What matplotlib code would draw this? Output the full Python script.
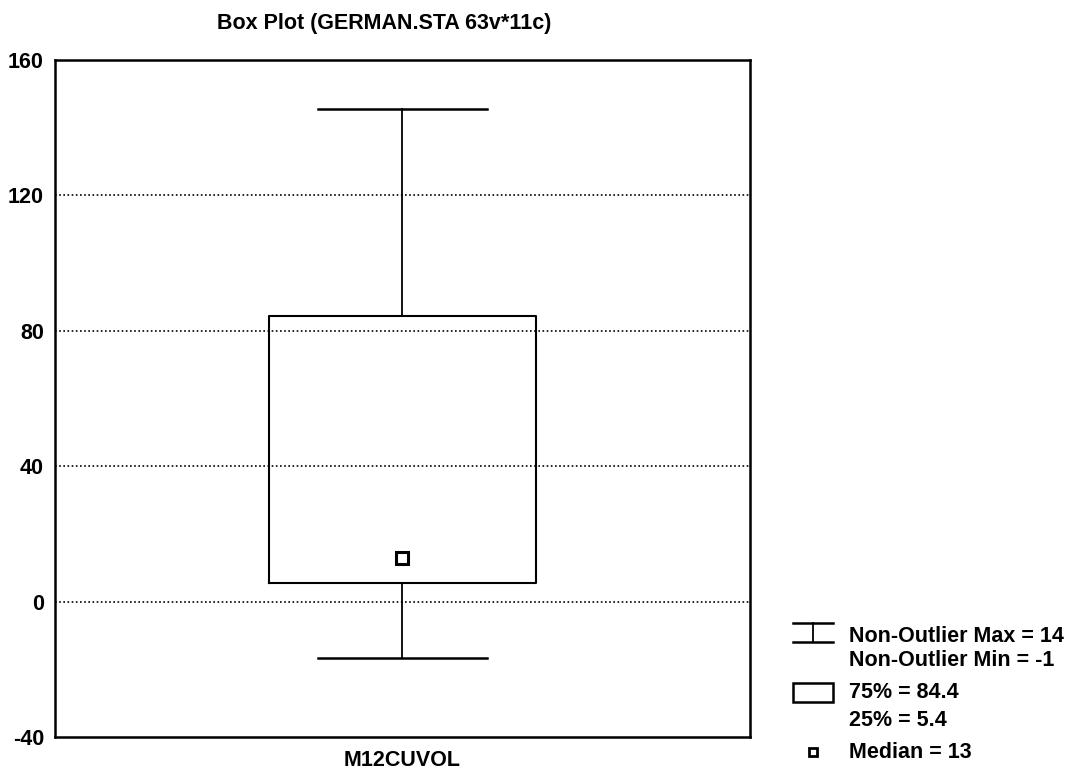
import matplotlib.pyplot as plt
from matplotlib.lines import Line2D
from matplotlib.patches import Rectangle

plt.rcParams['font.family'] = ['Liberation Sans', 'DejaVu Sans']
plt.rcParams['font.weight'] = 'bold'

# summary values
variable = "M12CUVOL"
whisker_low = -16.8
q1 = 5.4
median = 13
q3 = 84.4
whisker_high = 145.5
yticks = [-40, 0, 40, 80, 120, 160]
legend_lines = ["Non-Outlier Max = 14", "Non-Outlier Min = -1",
                "75% = 84.4", "25% = 5.4", "Median = 13"]

fig = plt.figure(figsize=(10.68, 7.72), dpi=100)
ax = fig.add_axes([55/1068, 1 - 737/772, 695/1068, 677/772])

stats = [dict(label=variable, whislo=whisker_low, q1=q1, med=median,
              q3=q3, whishi=whisker_high, fliers=[])]
ax.bxp(stats, positions=[1], widths=0.384, capwidths=0.244, showfliers=False,
       boxprops=dict(color='black', linewidth=1.5),
       whiskerprops=dict(color='black', linewidth=1.3),
       capprops=dict(color='black', linewidth=1.8),
       medianprops=dict(linewidth=0))
ax.plot([1], [median], marker='s', markersize=8.5, markerfacecolor='white',
        markeredgecolor='black', markeredgewidth=2.2, linestyle='none')

ax.set_xlim(0.5, 1.5)
ax.set_ylim(-40, 160)
ax.set_yticks(yticks)
ax.set_yticklabels([str(t) for t in yticks])
ax.tick_params(axis='y', length=0, labelsize=15.5, pad=8)
ax.tick_params(axis='x', length=0, labelsize=15.5, pad=9)
ax.set_xticks([1])
ax.set_xticklabels([variable])
for t in [0, 40, 80, 120]:
    ax.axhline(t, color='black', linestyle=(0, (1, 1.5)), linewidth=1.2, zorder=0)
for s in ax.spines.values():
    s.set_linewidth(1.8)

fig.text(384/1068, 1 - 23/772, "Box Plot (GERMAN.STA 63v*11c)",
         ha='center', va='center', fontsize=15.5)

# legend, drawn by hand like the original
def fx(x):
    return x / 1068

def fy(y):
    return 1 - y / 772

fig.add_artist(Line2D([fx(793), fx(833)], [fy(623), fy(623)], color='black', lw=1.8))
fig.add_artist(Line2D([fx(793), fx(833)], [fy(642), fy(642)], color='black', lw=1.8))
fig.add_artist(Line2D([fx(813), fx(813)], [fy(623), fy(642)], color='black', lw=1.3))
fig.add_artist(Rectangle((fx(793), fy(702)), fx(40), 1 - fy(19), fill=False,
                         edgecolor='black', lw=1.8))
fig.add_artist(Line2D([fx(813)], [fy(752)], marker='s', markersize=6,
                      markerfacecolor='white', markeredgecolor='black',
                      markeredgewidth=2))
for txt, y in zip(legend_lines, [636, 661, 693, 721, 752]):
    fig.text(fx(849), fy(y), txt, ha='left', va='center', fontsize=15.5)

fig.savefig("out.png", dpi=100)
